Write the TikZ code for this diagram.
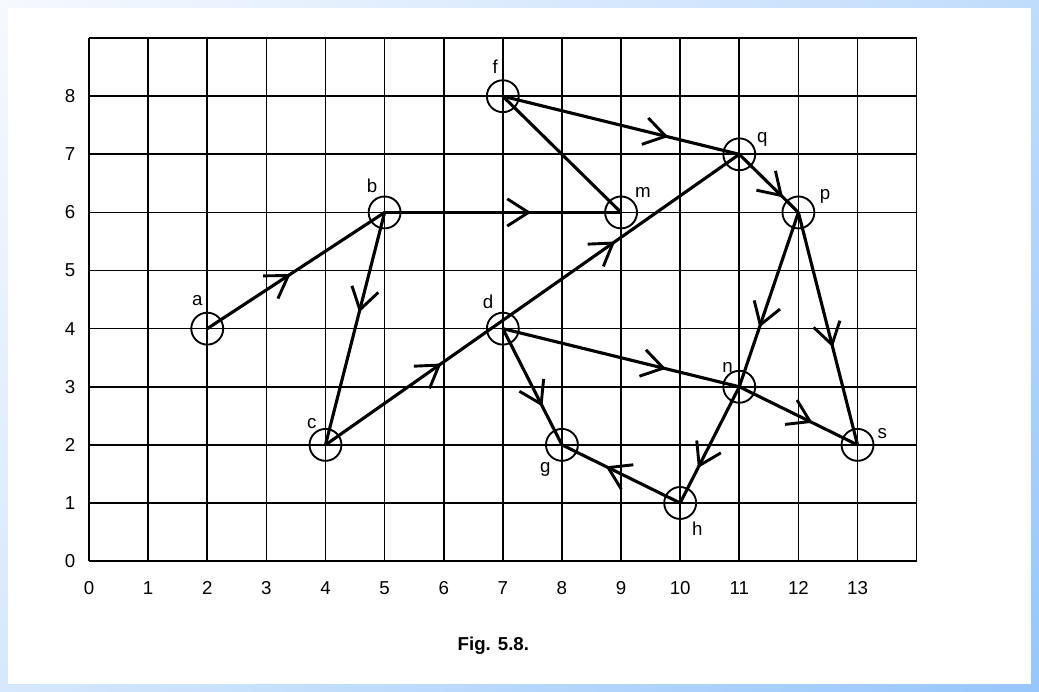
\documentclass[tikz,border=0pt]{standalone}
\usepackage{fontspec}
\setmainfont{Liberation Sans}
\usepackage{xcolor}
\usetikzlibrary{arrows.meta, decorations.markings, positioning, shadings}

\definecolor{frameUL}{RGB}{246,249,254}
\definecolor{frameUR}{RGB}{192,220,252}
\definecolor{frameLL}{RGB}{214,232,252}
\definecolor{frameLR}{RGB}{150,198,252}

\begin{document}
\begin{tikzpicture}[x=1cm, y=0.983cm,
    vtx/.style={draw, circle, minimum size=0.54cm, inner sep=0pt, line width=0.9pt},
    edge/.style={line width=1.5pt},
    flow/.style={postaction={decorate, decoration={markings,
        mark=at position #1 with {\arrow{Straight Barb[length=3.6mm, width=4.6mm, line width=1.4pt]}}}}},
    lbl/.style={font=\fontsize{9}{11}\selectfont, inner sep=1pt},
    num/.style={font=\fontsize{9}{11}\selectfont, inner sep=1pt},
]

% frame
\useasboundingbox (-1.506,-2.237) rectangle (16.07,9.656);
\shade[upper left=frameUL, upper right=frameUR, lower left=frameLL, lower right=frameLR]
    (-1.506,-2.237) rectangle (16.07,9.656);
\fill[white] (-1.371,-2.117) rectangle (15.94,9.518);

% grid and scale
\foreach \i in {0,...,14} \draw[line width=0.8pt] (\i,0) -- (\i,9);
\foreach \j in {0,...,9} \draw[line width=0.8pt] (0,\j) -- (14,\j);
\foreach \i in {0,...,13} \node[num] (xl\i) at (\i,-0.46) {\i};
\foreach \j in {0,...,8} \node[num] (yl\j) at (-0.32,\j) {\j};

% vertices
\node[vtx] (a) at (2,4) {};
\node[vtx] (b) at (5,6) {};
\node[vtx] (c) at (4,2) {};
\node[vtx] (d) at (7,4) {};
\node[vtx] (f) at (7,8) {};
\node[vtx] (m) at (9,6) {};
\node[vtx] (q) at (11,7) {};
\node[vtx] (p) at (12,6) {};
\node[vtx] (n) at (11,3) {};
\node[vtx] (s) at (13,2) {};
\node[vtx] (g) at (8,2) {};
\node[vtx] (h) at (10,1) {};

\node[lbl] (la) at (1.83,4.49) {a};
\node[lbl] (lb) at (4.79,6.45) {b};
\node[lbl] (lc) at (3.77,2.36) {c};
\node[lbl] (ld) at (6.75,4.46) {d};
\node[lbl] (lf) at (6.87,8.50) {f};
\node[lbl] (lm) at (9.37,6.35) {m};
\node[lbl] (lq) at (11.39,7.25) {q};
\node[lbl] (lp) at (12.45,6.27) {p};
\node[lbl] (ln) at (10.80,3.34) {n};
\node[lbl] (ls) at (13.42,2.20) {s};
\node[lbl] (lg) at (7.72,1.57) {g};
\node[lbl] (lh) at (10.29,0.55) {h};

% edges
\draw[edge, flow=0.47] (a.center) -- (b.center);
\draw[edge, flow=0.43] (b.center) -- (c.center);
\draw[edge, flow=0.62] (b.center) -- (m.center);
\draw[edge, flow=0.28, flow=0.70] (c.center) -- (q.center);
\draw[edge] (f.center) -- (m.center);
\draw[edge, flow=0.70] (f.center) -- (q.center);
\draw[edge, flow=0.74] (q.center) -- (p.center);
\draw[edge, flow=0.66] (p.center) -- (n.center);
\draw[edge, flow=0.58] (p.center) -- (s.center);
\draw[edge, flow=0.69] (d.center) -- (n.center);
\draw[edge, flow=0.62] (n.center) -- (s.center);
\draw[edge, flow=0.67] (d.center) -- (g.center);
\draw[edge, flow=0.70] (n.center) -- (h.center);
\draw[edge, flow=0.63] (h.center) -- (g.center);

% caption
\node[font=\fontsize{9}{11}\selectfont\bfseries] (cap) at (6.84,-1.45) {Fig. 5.8.};

\end{tikzpicture}
\end{document}
